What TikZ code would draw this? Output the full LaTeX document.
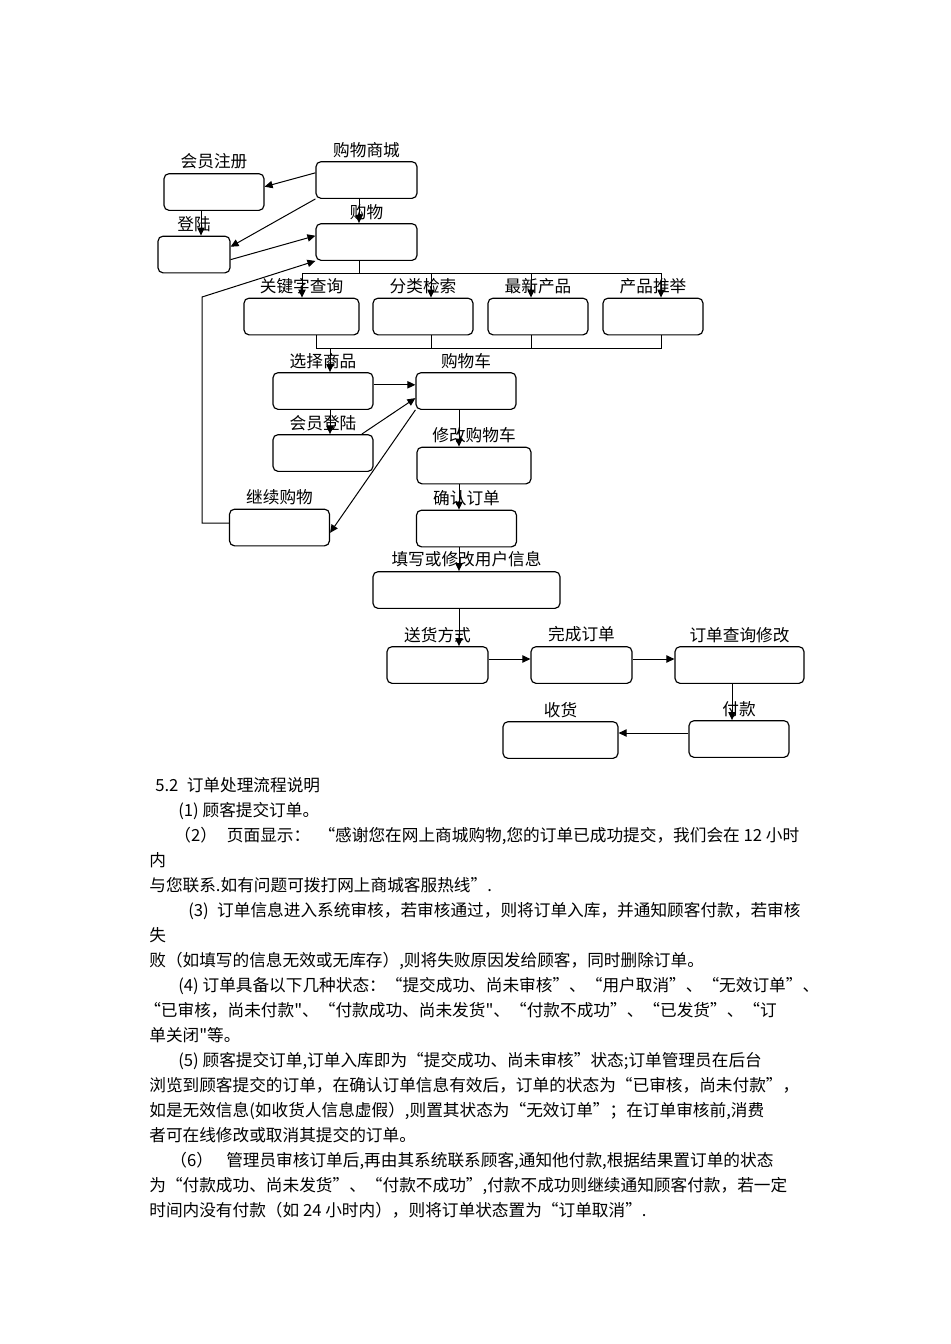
\documentclass[tikz,border=0pt]{standalone}
\usepackage{fontspec}
\setmainfont{Noto Sans CJK SC}[Ligatures=TeXOff]
\usetikzlibrary{arrows.meta}
\begin{document}
\begin{tikzpicture}[x=0.6pt,y=-0.6pt,
  stage/.style={shape=rectangle,draw=black,line width=0.7pt,rounded corners=3pt,minimum width=60pt,minimum height=22pt,inner sep=0pt},
  lbl/.style={inner sep=0pt,font=\fontsize{10pt}{12pt}\selectfont},
  label distance=2pt,
  flow/.style={line width=0.6pt},
  leads/.style={line width=0.6pt,-{Triangle[length=4.8pt,width=4.4pt]}},
  txt/.style={anchor=base west,inner sep=0pt,font=\fontsize{10pt}{12pt}\selectfont}]
\useasboundingbox (0,0) rectangle (950,1344);
% flow chart
\node[stage,label={[lbl]above:会员注册}] (reg) at (214,192) {};
\node[stage,minimum width=60.6pt,label={[lbl]above:购物商城}] (mall) at (366.5,180) {};
\node[stage,minimum width=43.2pt,label={[lbl]above:登陆}] (login) at (194,254.5) {};
\node[stage,minimum width=60.6pt,label={[lbl]above:购物}] (buy) at (366.5,242) {};
\node[stage,minimum width=69pt,label={[lbl]above:关键字查询}] (kw) at (301.5,316.5) {};
\node[stage,label={[lbl]above:分类检索}] (cat) at (423,316.5) {};
\node[stage,label={[lbl]above:最新产品}] (new) at (538,316.5) {};
\node[stage,label={[lbl]above:产品推举}] (rec) at (653,316.5) {};
\node[stage,label={[lbl]above:选择商品}] (pick) at (323,391) {};
\node[stage,label={[lbl]above:购物车}] (cart) at (466,391) {};
\node[stage,label={[lbl]above:会员登陆}] (mlogin) at (323,453) {};
\node[stage,minimum width=68.4pt,label={[lbl]above:修改购物车}] (edit) at (474,465.5) {};
\node[stage,label={[lbl]above:继续购物}] (more) at (279.5,527.5) {};
\node[stage,label={[lbl]above:确认订单}] (confirm) at (466.5,528.5) {};
\node[stage,minimum width=112.2pt,label={[lbl]above:填写或修改用户信息}] (info) at (466.5,590) {};
\node[stage,minimum width=60.6pt,label={[lbl]above:送货方式}] (ship) at (437.5,665) {};
\node[stage,minimum width=60.6pt,label={[lbl]above:完成订单}] (done) at (581.5,665) {};
\node[stage,minimum width=77.4pt,label={[lbl]above:订单查询修改}] (query) at (739.5,665) {};
\node[stage,minimum width=69pt,label={[lbl]above:收货}] (recv) at (560.5,740) {};
\node[stage,label={[lbl]above:付款}] (pay) at (739,739) {};
% bus and bend points
\coordinate (t0) at (359,273);
\coordinate (t1) at (302,273);
\coordinate (t2) at (431,273);
\coordinate (t3) at (531,273);
\coordinate (t4) at (661,273);
\coordinate (b0) at (330,348);
\coordinate (b1) at (316,348);
\coordinate (b4) at (661,348);
\coordinate (back) at (202,297);
\coordinate (regx) at (201,0);
\coordinate (spine) at (459,0);
\coordinate (drop) at (732,0);
\coordinate (row) at (0,659);
\coordinate (row2) at (0,733);
\draw[leads] (mall.172) -- (reg.6);
\draw[leads] (mall.south west) -- (login.12);
\draw[leads] (regx |- reg.south) -- (regx |- login.north);
\draw[leads] (t0 |- mall.south) -- (t0 |- buy.north);
\draw[leads] (login.352) -- (buy.173);
\draw[leads] (more.175) -| (back) -- (buy.south west);
\draw[flow] (t0 |- buy.south) -- (t0);
\draw[flow] (t1) -- (t4);
\draw[leads] (t1) -- (t1 |- kw.north);
\draw[leads] (t2) -- (t2 |- cat.north);
\draw[leads] (t3) -- (t3 |- new.north);
\draw[leads] (t4) -- (t4 |- rec.north);
\draw[flow] (b1 |- kw.south) -- (b1) -- (b4) -- (b4 |- rec.south);
\draw[flow] (t2 |- cat.south) -- (t2 |- b1);
\draw[flow] (t3 |- new.south) -- (t3 |- b1);
\draw[leads] (b0) -- (b0 |- pick.north);
\draw[leads] (pick.7) -- (pick.7 -| cart.west);
\draw[leads] (b0 |- pick.south) -- (b0 |- mlogin.north);
\draw[leads] (mlogin.26) -- (cart.188);
\draw[leads] (cart.south west) -- (more.354);
\draw[leads] (spine |- cart.south) -- (spine |- edit.north);
\draw[leads] (spine |- edit.south) -- (spine |- confirm.north);
\draw[leads] (spine |- confirm.south) -- (spine |- info.north);
\draw[leads] (spine |- info.south) -- (spine |- ship.north);
\draw[leads] (ship.east |- row) -- (done.west |- row);
\draw[leads] (done.east |- row) -- (query.west |- row);
\draw[leads] (drop |- query.south) -- (drop |- pay.north);
\draw[leads] (pay.west |- row2) -- (recv.east |- row2);
% text below the chart
\node[txt] (l1) at (155,791) {5.2\hspace{5pt}订单处理流程说明};
\node[txt] (l2) at (178,816) {(1) 顾客提交订单。};
\node[txt] (l3) at (174,841) {（2）\hspace{6pt}页面显示：\hspace{5pt}“感谢您在网上商城购物,您的订单已成功提交，我们会在 12 小时};
\node[txt] (l4) at (149,866) {内};
\node[txt] (l5) at (149,891) {与您联系.如有问题可拨打网上商城客服热线”.};
\node[txt] (l6) at (188,916) {(3)\hspace{5pt}订单信息进入系统审核，若审核通过，则将订单入库，并通知顾客付款，若审核};
\node[txt] (l7) at (149,941) {失};
\node[txt] (l8) at (149,966) {败（如填写的信息无效或无库存）,则将失败原因发给顾客，同时删除订单。};
\node[txt] (l9) at (178,991) {(4) 订单具备以下几种状态：“提交成功、尚未审核”、“用户取消”、“无效订单”、};
\node[txt] (l10) at (144,1016) {“已审核，尚未付款"、“付款成功、尚未发货"、“付款不成功”、“已发货”、“订};
\node[txt] (l11) at (149,1041) {单关闭"等。};
\node[txt] (l12) at (178,1066) {(5) 顾客提交订单,订单入库即为“提交成功、尚未审核”状态;订单管理员在后台};
\node[txt] (l13) at (149,1091) {浏览到顾客提交的订单，在确认订单信息有效后，订单的状态为“已审核，尚未付款”，};
\node[txt] (l14) at (149,1116) {如是无效信息(如收货人信息虚假）,则置其状态为“无效订单”；在订单审核前,消费};
\node[txt] (l15) at (149,1141) {者可在线修改或取消其提交的订单。};
\node[txt] (l16) at (170,1166) {（6）\hspace{8pt}管理员审核订单后,再由其系统联系顾客,通知他付款,根据结果置订单的状态};
\node[txt] (l17) at (149,1191) {为“付款成功、尚未发货”、“付款不成功”,付款不成功则继续通知顾客付款，若一定};
\node[txt] (l18) at (149,1216) {时间内没有付款（如 24 小时内），则将订单状态置为“订单取消”.};
\end{tikzpicture}
\end{document}
